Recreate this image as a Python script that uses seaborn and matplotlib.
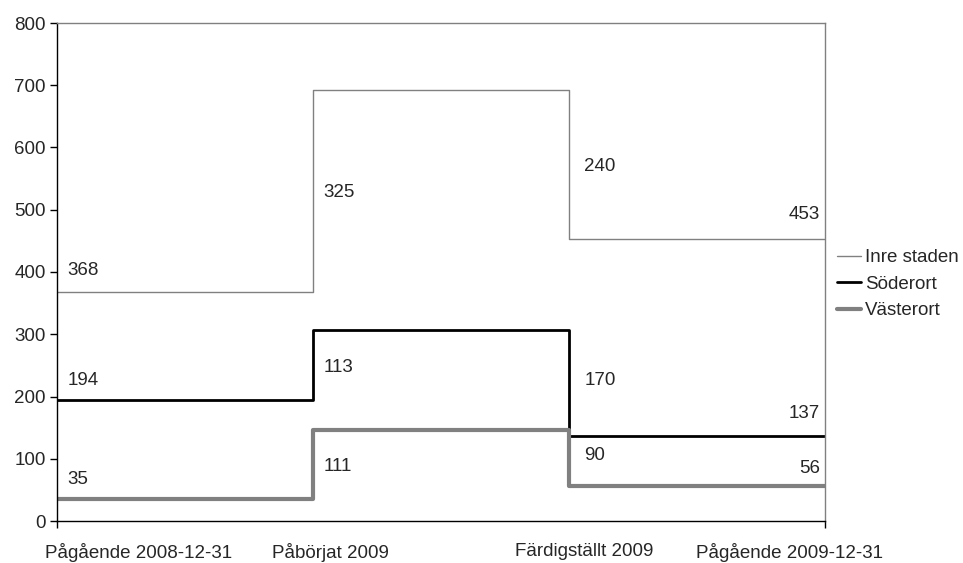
import matplotlib
matplotlib.use('Agg')
import matplotlib.pyplot as plt
import seaborn as sns
import pandas as pd

# Data
categories = ['Pågående 2008-12-31', 'Påbörjat 2009', 'Färdigställt 2009', 'Pågående 2009-12-31']
areas = ['Inre staden', 'Söderort', 'Västerort']
start_2008 = [368, 194, 35]
started_2009 = [325, 113, 111]
completed_2009 = [240, 170, 90]
end_2009 = [453, 137, 56]

# label heights (value units) for the data labels
label_y = {
    'Inre staden': [402, 528, 569, 492],
    'Söderort': [225, 246, 225, 173],
    'Västerort': [66, 87, 106, 84],
}

FS = 13.5

sns.set_style('white')
plt.rcParams['font.family'] = ['Liberation Sans', 'DejaVu Sans']
plt.rcParams['font.size'] = FS

rows = []
for i, a in enumerate(areas):
    lv = [start_2008[i], start_2008[i] + started_2009[i],
          start_2008[i] + started_2009[i] - completed_2009[i], end_2009[i]]
    for x, v in enumerate(lv):
        rows.append({'area': a, 'x': x, 'value': v})
df = pd.DataFrame(rows)

fig = plt.figure(figsize=(9.63, 5.63), dpi=100)
ax = fig.add_axes([57 / 963, 42 / 563, 768 / 963, 498 / 563])

styles = {
    'Inre staden': ('#808080', 1.0),
    'Söderort': ('#000000', 2.0),
    'Västerort': ('#808080', 3.0),
}
for a in areas:
    c, lw = styles[a]
    sns.lineplot(data=df[df['area'] == a], x='x', y='value', ax=ax,
                 color=c, linewidth=lw, drawstyle='steps-post', label=a)

# data labels
label_x = [0.04, 1.04, 2.06, 2.98]
for i, a in enumerate(areas):
    vals = [start_2008[i], started_2009[i], completed_2009[i], end_2009[i]]
    for j, v in enumerate(vals):
        ax.text(label_x[j], label_y[a][j], str(v), fontsize=FS,
                ha='right' if j == 3 else 'left', va='center')

ax.set_xlim(0, 3)
ax.set_ylim(0, 800)
ax.set_yticks(range(0, 801, 100))
ax.set_xticks([0, 3])
ax.set_xticklabels(['', ''])
ax.set_xticks([0.32, 1.07, 2.06, 2.86], categories, minor=True)
ax.tick_params(axis='x', which='major', direction='out', length=5, width=1, color='black', bottom=True)
ax.tick_params(axis='x', which='minor', length=0, pad=16, labelsize=FS)
ax.tick_params(axis='y', direction='out', length=5, width=1, color='black', left=True, labelsize=FS, pad=3)
ax.set_xlabel('')
ax.set_ylabel('')

for s in ['left', 'bottom']:
    ax.spines[s].set_color('black')
    ax.spines[s].set_linewidth(1)
for s in ['top', 'right']:
    ax.spines[s].set_color('#808080')
    ax.spines[s].set_linewidth(1)
    ax.spines[s].set_visible(True)

ax.legend(loc='center left', bbox_to_anchor=(837 / 963, (563 - 284) / 563), bbox_transform=fig.transFigure,
          frameon=False, fontsize=FS, handlelength=1.3, handletextpad=0.2,
          labelspacing=0.5, borderpad=0, borderaxespad=0)

fig.savefig('out.png', dpi=100)
